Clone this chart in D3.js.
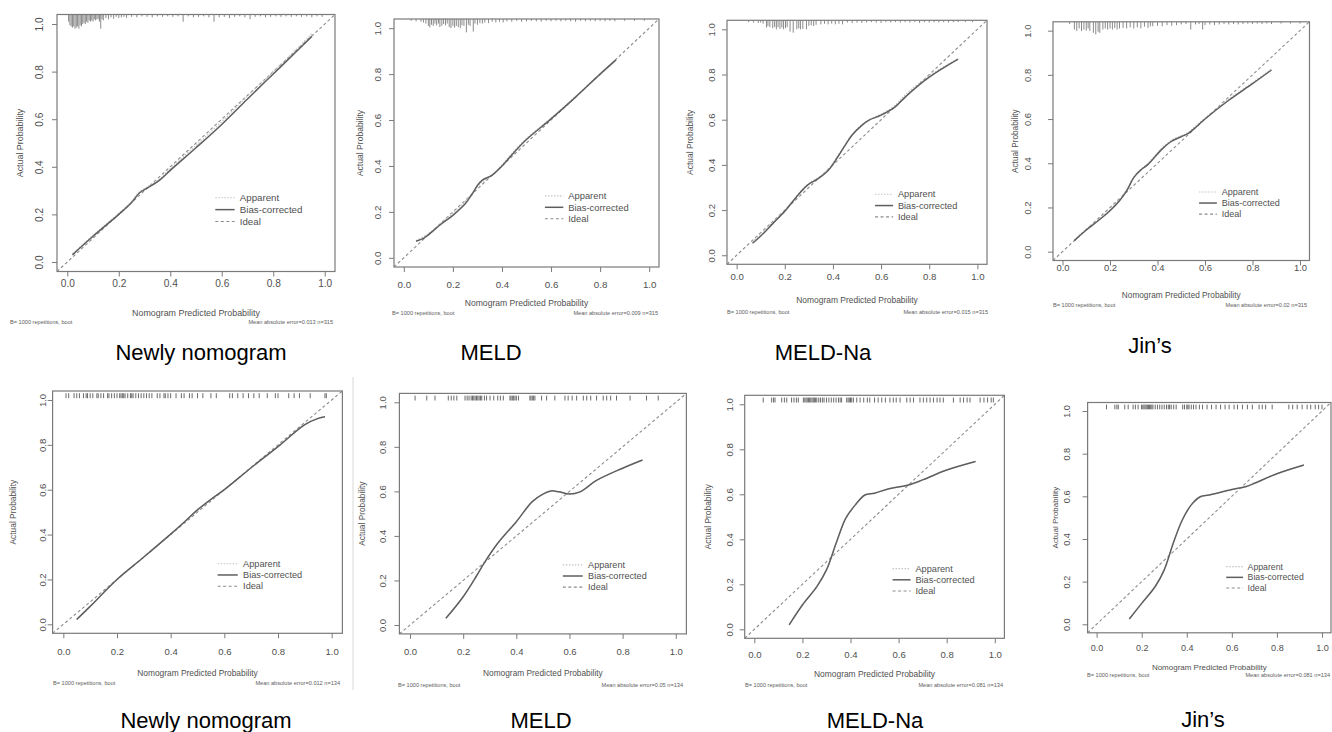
<!DOCTYPE html>
<html>
<head>
<meta charset="utf-8">
<script src="https://cdn.jsdelivr.net/npm/d3@7"></script>
<style>
  body { margin: 0; background: #fff; }
  svg { display: block; font-family: "Liberation Sans", Arial, sans-serif; }
</style>
</head>
<body>
<script>
'use strict';

// ---- data ----
var xTicks = [0, 0.2, 0.4, 0.6, 0.8, 1.0];
var yTicks = [0, 0.2, 0.4, 0.6, 0.8, 1.0];
var captions = ['Newly nomogram', 'MELD', 'MELD-Na', 'Jin\u2019s', 'Newly nomogram', 'MELD', 'MELD-Na', 'Jin\u2019s'];
var maeValues = ['0.013', '0.009', '0.015', '0.02', '0.012', '0.05', '0.081', '0.081'];
var nValues = [315, 315, 315, 315, 134, 134, 134, 134];
var legendLabels = ['Apparent', 'Bias-corrected', 'Ideal'];

// bias-corrected calibration curves [predicted, actual]
var bias1 = [[0.02,0.03],[0.1,0.108],[0.2,0.2],[0.25,0.25],[0.28,0.29],[0.31,0.31],[0.36,0.345],[0.4,0.385],[0.5,0.48],[0.6,0.578],[0.7,0.685],[0.8,0.79],[0.9,0.895],[0.95,0.948]];
var bias2 = [[0.05,0.072],[0.08,0.085],[0.1,0.1],[0.15,0.145],[0.2,0.185],[0.25,0.235],[0.28,0.28],[0.3,0.315],[0.32,0.338],[0.36,0.36],[0.4,0.4],[0.45,0.46],[0.5,0.515],[0.6,0.605],[0.7,0.7],[0.8,0.8],[0.865,0.862]];
var bias3 = [[0.066,0.053],[0.1,0.085],[0.15,0.14],[0.2,0.195],[0.25,0.26],[0.28,0.296],[0.3,0.315],[0.34,0.34],[0.38,0.375],[0.42,0.435],[0.45,0.485],[0.48,0.532],[0.52,0.575],[0.55,0.598],[0.6,0.62],[0.66,0.658],[0.7,0.7],[0.8,0.788],[0.92,0.868]];
var bias4 = [[0.05,0.05],[0.1,0.098],[0.15,0.14],[0.2,0.185],[0.24,0.23],[0.27,0.275],[0.3,0.335],[0.33,0.37],[0.36,0.395],[0.42,0.465],[0.46,0.5],[0.5,0.52],[0.53,0.535],[0.56,0.562],[0.6,0.6],[0.7,0.685],[0.8,0.76],[0.88,0.822]];
var bias5 = [[0.05,0.022],[0.1,0.08],[0.2,0.2],[0.3,0.3],[0.4,0.402],[0.45,0.455],[0.5,0.51],[0.55,0.557],[0.6,0.6],[0.7,0.698],[0.8,0.792],[0.9,0.89],[0.95,0.918],[0.975,0.925]];
var bias6 = [[0.135,0.03],[0.2,0.127],[0.25,0.22],[0.28,0.28],[0.33,0.367],[0.4,0.464],[0.46,0.554],[0.5,0.588],[0.53,0.602],[0.56,0.598],[0.6,0.588],[0.64,0.598],[0.7,0.648],[0.8,0.704],[0.875,0.741]];
var bias7 = [[0.145,0.02],[0.2,0.108],[0.26,0.19],[0.3,0.264],[0.34,0.382],[0.38,0.493],[0.42,0.553],[0.46,0.597],[0.5,0.605],[0.56,0.625],[0.64,0.641],[0.7,0.664],[0.8,0.708],[0.92,0.746]];
var bias8 = [[0.145,0.025],[0.2,0.098],[0.26,0.177],[0.3,0.255],[0.34,0.38],[0.38,0.489],[0.42,0.56],[0.46,0.598],[0.5,0.606],[0.6,0.632],[0.66,0.645],[0.7,0.661],[0.8,0.706],[0.92,0.747]];

// apparent curves (validation ones sit right under the bias-corrected)
var app1 = [[0.02,0.035],[0.1,0.112],[0.2,0.205],[0.25,0.255],[0.28,0.295],[0.31,0.315],[0.36,0.35],[0.4,0.392],[0.5,0.49],[0.6,0.59],[0.7,0.698],[0.8,0.8],[0.9,0.905],[0.95,0.96]];
var app2 = [[0.05,0.075],[0.1,0.105],[0.15,0.15],[0.2,0.195],[0.25,0.245],[0.3,0.31],[0.32,0.33],[0.36,0.362],[0.4,0.405],[0.45,0.465],[0.5,0.52],[0.6,0.608],[0.7,0.703],[0.8,0.802],[0.865,0.865]];
var app3 = [[0.066,0.06],[0.1,0.095],[0.15,0.148],[0.2,0.2],[0.25,0.262],[0.28,0.298],[0.3,0.318],[0.34,0.345],[0.38,0.38],[0.42,0.44],[0.45,0.49],[0.48,0.535],[0.52,0.578],[0.55,0.6],[0.6,0.625],[0.66,0.665],[0.7,0.71],[0.8,0.795],[0.92,0.87]];
var app4 = [[0.05,0.055],[0.1,0.102],[0.15,0.145],[0.2,0.19],[0.24,0.236],[0.27,0.28],[0.3,0.338],[0.33,0.372],[0.36,0.4],[0.42,0.47],[0.46,0.505],[0.5,0.525],[0.53,0.54],[0.56,0.568],[0.6,0.605],[0.7,0.69],[0.8,0.765],[0.88,0.826]];
var app5 = bias5;
var app6 = bias6;
var app7 = bias7;
var app8 = bias8;

// risk distribution spikes for the training panels [predicted, spike length]
var rug1 = [[0.005,0.03],[0.01,0.045],[0.015,0.05],[0.02,0.055],[0.025,0.05],[0.03,0.06],[0.035,0.055],[0.04,0.05],[0.045,0.06],[0.05,0.045],[0.055,0.05],[0.06,0.04],[0.065,0.035],[0.07,0.04],[0.075,0.03],[0.08,0.035],[0.085,0.025],[0.09,0.03],[0.095,0.025],[0.1,0.03],[0.105,0.02],[0.11,0.025],[0.115,0.02],[0.12,0.02],[0.125,0.03],[0.13,0.06],[0.135,0.02],[0.14,0.025],[0.15,0.015],[0.16,0.02],[0.17,0.012],[0.18,0.018],[0.19,0.01],[0.2,0.015],[0.21,0.012],[0.22,0.01],[0.23,0.014],[0.25,0.01],[0.27,0.012],[0.29,0.008],[0.31,0.01],[0.33,0.012],[0.35,0.008],[0.37,0.01],[0.39,0.008],[0.41,0.01],[0.43,0.008],[0.45,0.03],[0.47,0.008],[0.49,0.012],[0.51,0.01],[0.53,0.008],[0.55,0.012],[0.57,0.03],[0.59,0.012],[0.61,0.01],[0.63,0.015],[0.65,0.01],[0.67,0.008],[0.69,0.012],[0.71,0.02],[0.73,0.01],[0.75,0.008],[0.77,0.012],[0.79,0.01],[0.81,0.008],[0.83,0.01],[0.85,0.008],[0.87,0.01],[0.89,0.008],[0.91,0.01],[0.93,0.008],[0.95,0.012],[0.97,0.008],[0.99,0.01]];
var rug2 = [[0.03,0.008],[0.05,0.01],[0.07,0.012],[0.08,0.015],[0.09,0.02],[0.1,0.03],[0.106,0.036],[0.113,0.025],[0.12,0.03],[0.127,0.02],[0.134,0.028],[0.141,0.02],[0.147,0.035],[0.155,0.03],[0.162,0.022],[0.17,0.028],[0.177,0.02],[0.185,0.035],[0.192,0.04],[0.2,0.03],[0.207,0.038],[0.214,0.03],[0.222,0.035],[0.23,0.04],[0.237,0.028],[0.245,0.03],[0.255,0.058],[0.263,0.025],[0.27,0.03],[0.283,0.055],[0.29,0.02],[0.3,0.025],[0.31,0.018],[0.32,0.02],[0.33,0.015],[0.345,0.018],[0.36,0.012],[0.375,0.015],[0.39,0.012],[0.405,0.015],[0.42,0.01],[0.44,0.012],[0.46,0.008],[0.48,0.012],[0.5,0.01],[0.52,0.008],[0.54,0.01],[0.56,0.012],[0.58,0.008],[0.6,0.01],[0.62,0.008],[0.64,0.01],[0.66,0.008],[0.68,0.01],[0.7,0.012],[0.72,0.008],[0.74,0.01],[0.76,0.008],[0.78,0.01],[0.8,0.008],[0.82,0.01],[0.84,0.008],[0.86,0.01],[0.9,0.008],[0.94,0.008],[0.98,0.008]];
var rug3 = [[0.05,0.008],[0.07,0.01],[0.09,0.012],[0.1,0.01],[0.11,0.015],[0.124,0.032],[0.13,0.025],[0.138,0.03],[0.15,0.035],[0.158,0.03],[0.165,0.04],[0.172,0.03],[0.18,0.038],[0.188,0.032],[0.195,0.04],[0.203,0.035],[0.21,0.03],[0.222,0.05],[0.235,0.055],[0.25,0.04],[0.258,0.035],[0.265,0.04],[0.275,0.038],[0.29,0.04],[0.3,0.025],[0.31,0.022],[0.32,0.025],[0.33,0.02],[0.35,0.018],[0.365,0.015],[0.38,0.018],[0.395,0.015],[0.41,0.018],[0.425,0.015],[0.44,0.018],[0.46,0.01],[0.48,0.012],[0.5,0.01],[0.52,0.012],[0.54,0.01],[0.56,0.008],[0.58,0.01],[0.6,0.012],[0.62,0.008],[0.64,0.01],[0.66,0.008],[0.68,0.01],[0.7,0.008],[0.72,0.01],[0.74,0.008],[0.76,0.012],[0.78,0.008],[0.8,0.01],[0.82,0.008],[0.84,0.01],[0.86,0.008],[0.88,0.01],[0.9,0.008],[0.92,0.008],[0.95,0.008],[0.98,0.008]];
var rug4 = [[0.03,0.01],[0.05,0.035],[0.06,0.042],[0.07,0.03],[0.08,0.042],[0.09,0.035],[0.1,0.04],[0.108,0.03],[0.115,0.042],[0.13,0.05],[0.14,0.057],[0.15,0.045],[0.157,0.05],[0.17,0.035],[0.18,0.03],[0.19,0.035],[0.2,0.03],[0.21,0.035],[0.22,0.028],[0.23,0.035],[0.24,0.03],[0.255,0.028],[0.27,0.03],[0.285,0.025],[0.3,0.03],[0.315,0.025],[0.33,0.03],[0.345,0.022],[0.36,0.028],[0.37,0.02],[0.38,0.02],[0.4,0.018],[0.42,0.02],[0.44,0.015],[0.46,0.018],[0.48,0.015],[0.5,0.012],[0.52,0.01],[0.54,0.035],[0.56,0.012],[0.575,0.01],[0.59,0.035],[0.6,0.015],[0.62,0.012],[0.64,0.015],[0.66,0.012],[0.68,0.01],[0.7,0.012],[0.72,0.01],[0.74,0.012],[0.76,0.01],[0.78,0.008],[0.8,0.01],[0.82,0.008],[0.84,0.01],[0.86,0.008],[0.88,0.01],[0.92,0.008],[0.96,0.008],[1.0,0.008]];

// rug ticks for the validation panels [predicted]
var rug5 = [0.01,0.02,0.04,0.05,0.06,0.075,0.085,0.09,0.1,0.11,0.125,0.13,0.14,0.15,0.165,0.17,0.18,0.19,0.2,0.21,0.215,0.22,0.225,0.23,0.24,0.25,0.255,0.26,0.27,0.28,0.29,0.3,0.31,0.32,0.33,0.35,0.36,0.375,0.38,0.39,0.4,0.42,0.44,0.45,0.47,0.48,0.5,0.52,0.55,0.57,0.62,0.63,0.65,0.67,0.69,0.71,0.73,0.76,0.79,0.8,0.84,0.86,0.88,0.92,0.975,0.98];
var rug6 = [0.019,0.063,0.094,0.144,0.155,0.165,0.176,0.207,0.215,0.222,0.23,0.235,0.24,0.245,0.25,0.255,0.26,0.265,0.27,0.28,0.288,0.301,0.315,0.33,0.34,0.351,0.376,0.38,0.385,0.39,0.395,0.4,0.408,0.451,0.455,0.46,0.465,0.47,0.495,0.514,0.545,0.583,0.595,0.61,0.627,0.652,0.665,0.68,0.702,0.727,0.74,0.755,0.777,0.828,0.89,0.934];
var rug7 = [0.037,0.072,0.08,0.086,0.114,0.125,0.135,0.155,0.165,0.175,0.183,0.204,0.21,0.215,0.22,0.225,0.23,0.235,0.24,0.245,0.25,0.255,0.26,0.268,0.275,0.283,0.29,0.3,0.31,0.32,0.33,0.34,0.35,0.357,0.363,0.384,0.39,0.395,0.4,0.405,0.412,0.426,0.44,0.455,0.47,0.48,0.5,0.515,0.53,0.545,0.564,0.578,0.59,0.606,0.634,0.648,0.662,0.689,0.703,0.717,0.731,0.745,0.76,0.772,0.786,0.828,0.856,0.87,0.885,0.897,0.939,0.955,0.97,0.985,0.994];
var rug8 = [0.044,0.081,0.09,0.096,0.125,0.14,0.162,0.172,0.184,0.199,0.205,0.21,0.215,0.22,0.225,0.23,0.235,0.24,0.245,0.25,0.26,0.27,0.28,0.29,0.3,0.31,0.318,0.324,0.331,0.342,0.353,0.382,0.39,0.4,0.405,0.41,0.42,0.43,0.441,0.456,0.47,0.49,0.51,0.53,0.55,0.57,0.588,0.61,0.625,0.647,0.669,0.691,0.721,0.735,0.75,0.779,0.853,0.87,0.89,0.912,0.934,0.95,0.97,0.985,1.0];

var biasCurves = [bias1, bias2, bias3, bias4, bias5, bias6, bias7, bias8];
var appCurves = [app1, app2, app3, app4, app5, app6, app7, app8];
var spikes = [rug1, rug2, rug3, rug4];
var rugs = [rug5, rug6, rug7, rug8];

// ---- layout (pixel boxes of each panel) ----
var panels = [
    {box: [57, 14.5, 335, 271.5],    tickY: 283, titleY: 313, footY: 322, footL: 10,   footR: 333,  yTickX: 39,   yTitleX: 20,   cap: [201, 360]},
    {box: [394, 19, 659, 267],       tickY: 285, titleY: 303, footY: 313, footL: 392,  footR: 658,  yTickX: 378,  yTitleX: 360,  cap: [491, 360]},
    {box: [727, 20.3, 987, 264.3],   tickY: 277, titleY: 300, footY: 312, footL: 727,  footR: 988,  yTickX: 712,  yTitleX: 690,  cap: [823, 360]},
    {box: [1053, 21.8, 1309.5, 260.5], tickY: 268, titleY: 295, footY: 305, footL: 1053, footR: 1307, yTickX: 1028, yTitleX: 1015, cap: [1150, 353]},
    {box: [52.6, 391, 342.4, 633.3], tickY: 652, titleY: 673, footY: 683, footL: 53,   footR: 340,  yTickX: 43,   yTitleX: 13,   cap: [206, 728]},
    {box: [399.4, 393.4, 686.4, 633.9], tickY: 652, titleY: 673, footY: 685, footL: 398, footR: 683, yTickX: 383, yTitleX: 362, cap: [541, 728]},
    {box: [744.7, 395.3, 1004.4, 638.3], tickY: 655, titleY: 674, footY: 685, footL: 745, footR: 1003, yTickX: 730, yTitleX: 708, cap: [875, 728]},
    {box: [1087.6, 402.5, 1331, 632.8], tickY: 648, titleY: 667, footY: 675, footL: 1087, footR: 1330, yTickX: 1067, yTitleX: 1055, cap: [1203, 727]}
];

var legendY = [0.27, 0.22, 0.17];

var svg = d3.select('body').append('svg')
    .attr('width', 1332)
    .attr('height', 732);

svg.append('rect').attr('width', 1332).attr('height', 732).attr('fill', '#fff');

// faint divider seen between the lower-left panels
svg.append('line')
    .attr('x1', 353).attr('x2', 353).attr('y1', 377).attr('y2', 690)
    .attr('stroke', '#d8d8d8').attr('stroke-width', 1);

panels.forEach(function (p, i) {
    var x = d3.scaleLinear().domain([-0.04, 1.04]).range([p.box[0], p.box[2]]),
        y = d3.scaleLinear().domain([-0.04, 1.04]).range([p.box[3], p.box[1]]),
        k = (p.box[3] - p.box[1]) / 1.08 / 230,
        g = svg.append('g'),
        clipId = 'clip' + i,
        line = d3.line()
            .x(function (d) { return x(d[0]); })
            .y(function (d) { return y(d[1]); })
            .curve(d3.curveCatmullRom.alpha(0.5));

    g.append('clipPath').attr('id', clipId)
        .append('rect')
        .attr('x', p.box[0]).attr('y', p.box[1])
        .attr('width', p.box[2] - p.box[0]).attr('height', p.box[3] - p.box[1]);

    var inner = g.append('g').attr('clip-path', 'url(#' + clipId + ')');

    // Ideal line.
    inner.append('path')
        .attr('d', line.curve(d3.curveLinear)([[-0.04, -0.04], [1.04, 1.04]]))
        .attr('fill', 'none')
        .attr('stroke', '#8c8c8c')
        .attr('stroke-width', 1.1)
        .attr('stroke-dasharray', '3,2.5');

    line.curve(d3.curveCatmullRom.alpha(0.5));

    // Apparent.
    inner.append('path')
        .attr('d', line(appCurves[i]))
        .attr('fill', 'none')
        .attr('stroke', '#c4c4c4')
        .attr('stroke-width', 1.2)
        .attr('stroke-dasharray', '1.5,1.5');

    // Bias-corrected.
    inner.append('path')
        .attr('d', line(biasCurves[i]))
        .attr('fill', 'none')
        .attr('stroke', '#5e5e5e')
        .attr('stroke-width', 1.5);

    // Distribution of predictions along the top.
    if (i < 4) {
        inner.selectAll('.spike')
            .data(spikes[i])
            .enter().append('line')
            .attr('class', 'spike')
            .attr('x1', function (d) { return x(d[0]); })
            .attr('x2', function (d) { return x(d[0]); })
            .attr('y1', y(1.04))
            .attr('y2', function (d) { return y(1.04 - d[1]); })
            .attr('stroke', '#8a8a8a')
            .attr('stroke-width', 1);
    } else {
        inner.selectAll('.rug')
            .data(rugs[i - 4])
            .enter().append('line')
            .attr('class', 'rug')
            .attr('x1', function (d) { return x(d); })
            .attr('x2', function (d) { return x(d); })
            .attr('y1', y(1.03))
            .attr('y2', y(1.008))
            .attr('stroke', '#6a6a6a')
            .attr('stroke-width', 1);
    }

    // Frame.
    g.append('rect')
        .attr('x', p.box[0]).attr('y', p.box[1])
        .attr('width', p.box[2] - p.box[0]).attr('height', p.box[3] - p.box[1])
        .attr('fill', 'none')
        .attr('stroke', '#7a7a7a')
        .attr('stroke-width', 1.2);

    // Axes.
    var xAxis = g.append('g')
        .attr('transform', 'translate(0,' + p.box[3] + ')')
        .call(d3.axisBottom(x).tickValues(xTicks).tickFormat(d3.format('.1f')).tickSize(5).tickSizeOuter(0));

    var yAxis = g.append('g')
        .attr('transform', 'translate(' + p.box[0] + ',0)')
        .call(d3.axisLeft(y).tickValues(yTicks).tickFormat(d3.format('.1f')).tickSize(5).tickSizeOuter(0));

    [xAxis, yAxis].forEach(function (a) {
        a.select('.domain').remove();
        a.selectAll('line').attr('stroke', '#7a7a7a').attr('stroke-width', 1);
        a.selectAll('text')
            .attr('fill', '#505050')
            .style('font-size', (9.8 * k) + 'px')
            .style('font-family', '"Liberation Sans", Arial, sans-serif');
    });

    xAxis.selectAll('text')
        .attr('y', p.tickY - p.box[3])
        .attr('dy', '0.35em');

    yAxis.selectAll('text')
        .attr('x', 0)
        .attr('dy', '0.35em')
        .attr('text-anchor', 'middle')
        .attr('transform', 'translate(' + (p.yTickX - p.box[0]) + ',0) rotate(-90)');

    // Axis titles.
    g.append('text')
        .attr('x', x(0.5)).attr('y', p.titleY)
        .attr('dy', '0.35em')
        .attr('text-anchor', 'middle')
        .attr('fill', '#505050')
        .style('font-size', (8.6 * k) + 'px')
        .text('Nomogram Predicted Probability');

    g.append('text')
        .attr('transform', 'translate(' + p.yTitleX + ',' + y(0.5) + ') rotate(-90)')
        .attr('dy', '0.35em')
        .attr('text-anchor', 'middle')
        .attr('fill', '#505050')
        .style('font-size', (8.6 * k) + 'px')
        .text('Actual Probability');

    // Footer lines.
    g.append('text')
        .attr('x', p.footL).attr('y', p.footY)
        .attr('dy', '0.35em')
        .attr('fill', '#606060')
        .style('font-size', '5.6px')
        .text('B= 1000 repetitions, boot');

    g.append('text')
        .attr('x', p.footR).attr('y', p.footY)
        .attr('dy', '0.35em')
        .attr('text-anchor', 'end')
        .attr('fill', '#606060')
        .style('font-size', '5.6px')
        .text('Mean absolute error=' + maeValues[i] + ' n=' + nValues[i]);

    // Legend.
    var legendStyles = [
        {stroke: '#c4c4c4', dash: '1.5,1.5', width: 1.2},
        {stroke: '#5e5e5e', dash: null, width: 1.5},
        {stroke: '#8c8c8c', dash: '3,2.5', width: 1.1}
    ];

    legendLabels.forEach(function (label, j) {
        g.append('line')
            .attr('x1', x(0.575)).attr('x2', x(0.65))
            .attr('y1', y(legendY[j])).attr('y2', y(legendY[j]))
            .attr('stroke', legendStyles[j].stroke)
            .attr('stroke-width', legendStyles[j].width)
            .attr('stroke-dasharray', legendStyles[j].dash);

        g.append('text')
            .attr('x', x(0.67)).attr('y', y(legendY[j]))
            .attr('dy', '0.35em')
            .attr('fill', '#505050')
            .style('font-size', (9.4 * k) + 'px')
            .text(label);
    });

    // Caption under each panel.
    svg.append('text')
        .attr('x', p.cap[0]).attr('y', p.cap[1])
        .attr('text-anchor', 'middle')
        .attr('fill', '#000')
        .style('font-size', '22px')
        .text(captions[i]);
});
</script>
</body>
</html>
